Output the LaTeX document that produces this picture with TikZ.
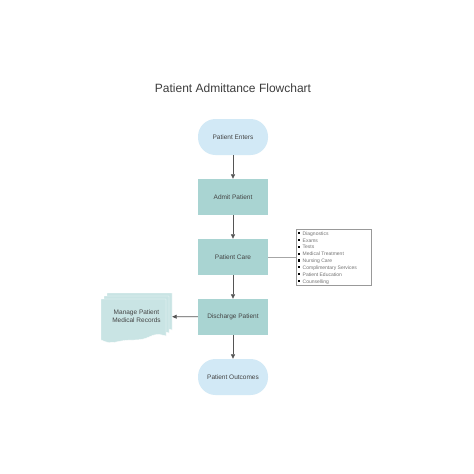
\documentclass[tikz,border=0pt]{standalone}
\usepackage{fontspec}
\setmainfont{Liberation Sans}
\usetikzlibrary{arrows.meta}
\definecolor{termfill}{HTML}{D2E9F6}
\definecolor{procfill}{HTML}{A9D4D2}
\definecolor{docfill}{HTML}{C9E4E4}
\definecolor{txt}{HTML}{444444}
\definecolor{arr}{HTML}{555555}
\tikzset{
  terminal/.style={rectangle, rounded corners=17.5pt, fill=termfill, minimum width=70pt, minimum height=36pt, inner sep=0pt, font=\fontsize{6.5}{8}\selectfont, text=txt},
  procbox/.style={rectangle, fill=procfill, minimum width=70pt, minimum height=36pt, inner sep=0pt, font=\fontsize{6.5}{8}\selectfont, text=txt},
  flowarrow/.style={draw=arr, line width=0.7pt, -{Triangle[width=4pt,length=4.5pt]}},
  noteline/.style={draw=gray!70, line width=0.5pt},
  notebox/.style={rectangle, draw=gray!80, line width=0.5pt, minimum width=75pt, minimum height=56pt, inner sep=0pt},
  docpage/.style={fill=docfill, draw=white, line width=0.4pt},
  bul/.style={font=\fontsize{5}{6}\selectfont, text=gray!90!black, anchor=base west, inner sep=0pt}
}
\newcommand{\docpage}[4]{% x y w h
  \path[docpage] (#1,#2) -- ++(#3,0) -- ++(0,#4-4)
    .. controls ++(-0.25*#3,-5) and ++(0.3*#3,0) .. ++(-0.5*#3,4)
    .. controls ++(-0.3*#3,0) and ++(0.2*#3,6) .. (#1,#2+#4) -- cycle;}
\begin{document}
\begin{tikzpicture}[x=1pt,y=-1pt]
\useasboundingbox (0,0) rectangle (474,474);
\fill[white] (0,0) rectangle (474,474);
\node[font=\fontsize{12}{14}\selectfont, text=txt!90!black] (title) at (233,88) {Patient Admittance Flowchart};
\node[terminal] (enter) at (233,137) {Patient Enters};
\node[procbox] (admit) at (233,197) {Admit Patient};
\node[procbox] (care) at (233,257) {Patient Care};
\node[procbox] (discharge) at (233,317) {Discharge Patient};
\node[terminal] (outcome) at (233,377) {Patient Outcomes};
% multi-document
\docpage{107}{293}{65}{41}
\docpage{104}{296}{65}{41}
\docpage{101}{299}{65}{41}
\node[rectangle, minimum width=71pt, minimum height=47pt, inner sep=0pt, font=\fontsize{6.5}{8}\selectfont, text=txt, align=center] (records) at (136.5,316.5) {Manage Patient\\Medical Records};
% notes box
\node[notebox] (notes) at (333.5,257) {};
\foreach \t [count=\i from 0] in {Diagnostics,Exams,Tests,Medical Treatment,Nursing Care,Complimentary Services,Patient Education,Counselling}{
  \fill[black] (297.6,232.0+6.85*\i) rectangle ++(2.2,2.2);
  \node[bul] (b\i) at (302.5,235.2+6.85*\i) {\t};
}
\draw[flowarrow] (enter) -- (admit);
\draw[flowarrow] (admit) -- (care);
\draw[flowarrow] (care) -- (discharge);
\draw[flowarrow] (discharge) -- (outcome);
\draw[flowarrow] (discharge) -- (records);
\draw[noteline] (care) -- (notes);
\end{tikzpicture}
\end{document}
